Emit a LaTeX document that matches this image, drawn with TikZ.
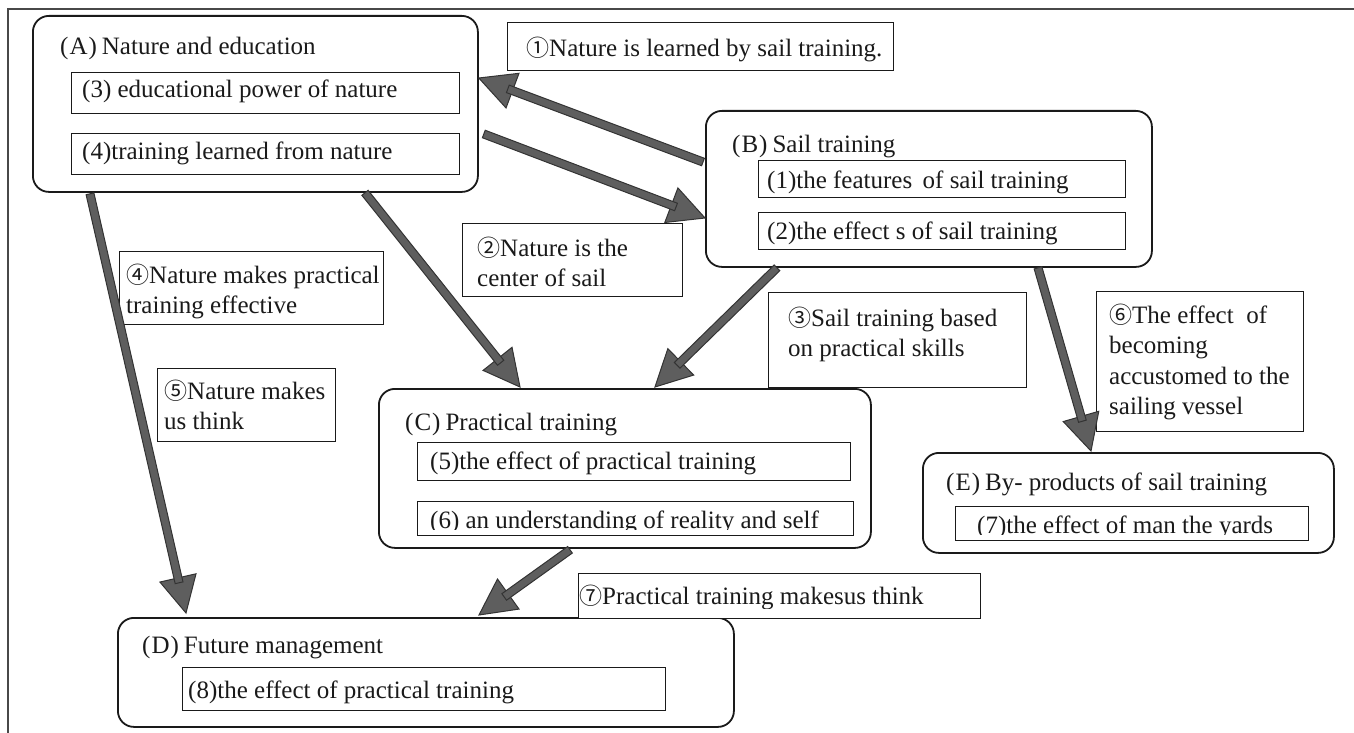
\documentclass[tikz,border=0pt]{standalone}
\usepackage{fontspec}
\setmainfont{Liberation Serif}
\newfontfamily\cjk{Noto Sans CJK JP}
\usetikzlibrary{calc}

\definecolor{ink}{HTML}{1A1A1A}
\definecolor{shaftfill}{HTML}{5E5E5E}
\definecolor{shaftline}{HTML}{333333}

% circled numbers come from the CJK face
\newcommand\cnum[1]{{\cjk\fontsize{23}{26}\selectfont #1}}
% several left-aligned lines, baseline on the first one
\newcommand\ml[1]{\begin{tabular}[t]{@{}l@{}}#1\end{tabular}}
% box label such as (A), with tight parentheses
\newcommand\tag[1]{(\kern1pt #1\kern1pt)\kern5pt}

% block arrow: grey shaft with outline and a triangular head, from #1 to #2
\newcommand\blockarrow[2]{%
  \coordinate (ba-base) at ($(#2)!36pt!(#1)$);
  \coordinate (ba-end)  at ($(#2)!31pt!(#1)$);
  \filldraw[arrowpart] (#2) -- ($(ba-base)!18.5pt!90:(#2)$)
                            -- ($(ba-base)!18.5pt!-90:(#2)$) -- cycle;
  \filldraw[arrowpart] ($(#1)!4pt!90:(#2)$) -- ($(ba-end)!4pt!-90:(#1)$)
                    -- ($(ba-end)!4pt!90:(#1)$) -- ($(#1)!4pt!-90:(#2)$) -- cycle;
}

\tikzset{
  bigbox/.style={draw=ink, line width=1.8pt, rounded corners=16pt, fill=white,
                 anchor=north west, inner sep=0pt},
  smallbox/.style={draw=ink, line width=1.3pt, fill=white,
                   anchor=north west, inner sep=0pt},
  txt/.style={anchor=base west, inner sep=0pt, text=ink,
              font=\fontsize{25}{30.5}\selectfont},
  arrowpart/.style={fill=shaftfill, draw=shaftline, line width=1pt, line join=miter},
  frame/.style={draw=ink!80, line width=1.6pt},
}

\begin{document}
\begin{tikzpicture}[x=1pt, y=-1pt]
\useasboundingbox (0,0) rectangle (1354,733);

% page frame
\draw[frame] (8,733) -- (8,9) -- (1354,9);

% (A) Nature and education
\node[bigbox, minimum width=445pt, minimum height=176pt] (A) at (32,15) {};
\node[txt] (At) at (60,55) {\tag{A}Nature and education};
\node[smallbox, minimum width=388pt, minimum height=41pt] (A3) at (71,72) {};
\node[txt] (A3t) at (82,98) {(3) educational power of nature};
\node[smallbox, minimum width=388pt, minimum height=41pt] (A4) at (71,133) {};
\node[txt] (A4t) at (82,159) {(4)training learned from nature};

% (B) Sail training
\node[bigbox, minimum width=446pt, minimum height=156pt] (B) at (705,110) {};
\node[txt] (Bt) at (732,152) {\tag{B}Sail training};
\node[smallbox, minimum width=367pt, minimum height=37pt] (B1) at (758,160) {};
\node[txt] (B1t) at (767,188) {(1)the features\ \,of sail training};
\node[smallbox, minimum width=367pt, minimum height=37pt] (B2) at (758,212) {};
\node[txt] (B2t) at (767,239) {(2)the effect s\ of sail training};

% (C) Practical training
\node[bigbox, minimum width=492pt, minimum height=159pt] (C) at (378,388) {};
\node[txt] (Ct) at (405,430) {\tag{C}Practical training};
\node[smallbox, minimum width=433pt, minimum height=38pt] (C5) at (417,442) {};
\node[txt] (C5t) at (430,469) {(5)the effect of practical training};
\node[smallbox, minimum width=436pt, minimum height=34pt] (C6) at (417,501) {};
\begin{scope}
  \clip ($(C6.north west)+(1,1)$) rectangle ($(C6.south east)+(-1,-7)$);
  \node[txt] (C6t) at (430,528) {(6) an understanding of reality and self};
\end{scope}

% (E) By-products of sail training
\node[bigbox, minimum width=411pt, minimum height=100pt] (E) at (922,452) {};
\node[txt] (Et) at (946,490) {\tag{E}By- products of sail training};
\node[smallbox, minimum width=353pt, minimum height=34pt] (E7) at (955,506) {};
\begin{scope}
  \clip ($(E7.north west)+(1,1)$) rectangle ($(E7.south east)+(-1,-7)$);
  \node[txt] (E7t) at (977,533) {(7)the effect of man the yards};
\end{scope}

% (D) Future management
\node[bigbox, minimum width=616pt, minimum height=109pt] (D) at (117,617) {};
\node[txt] (Dt) at (142,653) {\tag{D}Future management};
\node[smallbox, minimum width=483pt, minimum height=43pt] (D8) at (182,667) {};
\node[txt] (D8t) at (188,698) {(8)the effect of practical training};

% relation labels
\node[smallbox, minimum width=386pt, minimum height=48pt] (L1) at (507,22) {};
\node[txt] (L1t) at (526,57) {\cnum{①}Nature is learned by sail training.};

\node[smallbox, minimum width=220pt, minimum height=73pt] (L2) at (462,223) {};
\node[txt] (L2t) at (477,256) {\ml{\cnum{②}Nature is the\\center of sail}};

\node[smallbox, minimum width=258pt, minimum height=95pt] (L3) at (768,292) {};
\node[txt] (L3t) at (788,326) {\ml{\cnum{③}Sail training based\\on practical skills}};

\node[smallbox, minimum width=264pt, minimum height=73pt] (L4) at (119,251) {};
\node[txt] (L4t) at (126,283) {\ml{\cnum{④}Nature makes practical\\training effective}};

\node[smallbox, minimum width=178pt, minimum height=73pt] (L5) at (157,368) {};
\node[txt] (L5t) at (164,399) {\ml{\cnum{⑤}Nature makes\\us think}};

\node[smallbox, minimum width=207pt, minimum height=140pt] (L6) at (1096,291) {};
\node[txt] (L6t) at (1109,323) {\ml{\cnum{⑥}The effect\ \ of\\becoming\\accustomed to the\\sailing vessel}};

\node[smallbox, minimum width=402pt, minimum height=45pt] (L7) at (578,573) {};
\begin{scope}
  \clip ($(L7.north west)+(1,1)$) rectangle ($(L7.south east)+(-1,-11)$);
  \node[txt] (L7t) at (579,604) {\cnum{⑦}Practical training makesus think};
\end{scope}

% arrow ends on the box borders
\coordinate (a1s) at ($(B.north west)+(-2,52)$);
\coordinate (a1e) at ($(A.north east)+(0,63)$);
\coordinate (a2s) at ($(A.north east)+(5,119)$);
\coordinate (a2e) at ($(B.north west)+(0,108)$);
\coordinate (aACs) at ($(A.south west)+(333,0)$);
\coordinate (aACe) at ($(C.north west)+(142,-1)$);
\coordinate (aBCs) at ($(B.south west)+(72,0)$);
\coordinate (aBCe) at ($(C.north west)+(277,-1)$);
\coordinate (aBEs) at ($(B.south west)+(333,0)$);
\coordinate (aBEe) at ($(E.north west)+(169,-1)$);
\coordinate (aADs) at ($(A.south west)+(58,1)$);
\coordinate (aADe) at ($(D.north west)+(69,-4)$);
\coordinate (aCDs) at ($(C.south west)+(192,1)$);
\coordinate (aCDe) at ($(D.north west)+(362,-2)$);

\blockarrow{a1s}{a1e}
\blockarrow{a2s}{a2e}
\blockarrow{aACs}{aACe}
\blockarrow{aBCs}{aBCe}
\blockarrow{aBEs}{aBEe}
\blockarrow{aADs}{aADe}
\blockarrow{aCDs}{aCDe}
\end{tikzpicture}
\end{document}
